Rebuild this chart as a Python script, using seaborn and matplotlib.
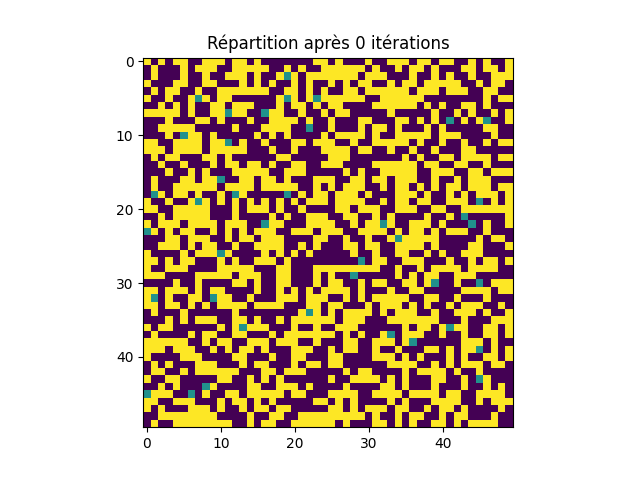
import numpy as np
import matplotlib
matplotlib.use("Agg")
import matplotlib.pyplot as plt
import seaborn as sns

# colonnes 0-24, lignes 0-49 (0 = vide, 1 = neutre, 2 = occupe)
left_rows = [
    "2020220022202202000000022",
    "0200020222002222200202002",
    "0200020020022202002120222",
    "2000220022000202020020200",
    "0202200200222222200220202",
    "2002002120220000002120212",
    "0020202002202220002022020",
    "2222202002212200122002002",
    "0002000220200020022220200",
    "0022222000002000222200100",
    "0002012202000002020200002",
    "2200222202210200200022022",
    "2220222202222200020020002",
    "0202200022020000002200000",
    "0020020002022022020022002",
    "0002002020002222200222000",
    "0200022022100220220200022",
    "0200222222022220222220020",
    "0120220200201200000102022",
    "2002002120202020202020222",
    "2200222220002022202002000",
    "0020222220002000020200222",
    "2022202222022200122000222",
    "1202022002020202220022202",
    "0002202220020220222000022",
    "0022202022002002222002020",
    "2000020222120000202020200",
    "2202022000202002220200000",
    "2002220000222220002200022",
    "2220000222220222002200020",
    "0000200200002202002200020",
    "2202220202200002002020202",
    "2102002201220020002220222",
    "2202202020222202222000220",
    "0200020000002000000002120",
    "0002020222002202002022222",
    "2022000000202122200020020",
    "0200002022002200020222222",
    "2222220020220022202220020",
    "2220222002020220200022200",
    "2000022200002200020022000",
    "0202000222000202200020220",
    "0220020222222000220222000",
    "2002200000220020202000000",
    "0020200012000022002220200",
    "1222001020022022222022000",
    "2200222000202202020000022",
    "2020002220200202202200000",
    "0022222222000020022002222",
    "0200222222220020220022222",
]

# colonnes 25-49
right_rows = [
    "0200020022202202200202002",
    "2222202002022020002202202",
    "2222022200020020200200222",
    "2020220020220222220020220",
    "0022022222202220222002200",
    "2222200222222000000002022",
    "2200002222220202002202000",
    "0220000020000020020200202",
    "2000220002202020102021002",
    "2000202202000202000002200",
    "0222202002222202220000200",
    "2002002222202002002002022",
    "2220220020020020002200000",
    "2220000000202002202222022",
    "2200002222220220022002000",
    "0020200222220022200220222",
    "2002202202220020020222000",
    "2022200202202020220222022",
    "0222020002220200202022202",
    "0222200202202200222010202",
    "0220222002220022002222222",
    "0022002020000200201000002",
    "2002022120022202000102002",
    "2200222202022020222002000",
    "0020020021222220000020220",
    "0022022002222020000220002",
    "0002002002200202002220000",
    "0000102200222000200202202",
    "2222222002002022220222200",
    "2001000002020220022200000",
    "2200202200220210020010222",
    "2220200020022000002222022",
    "0020202222200220020002000",
    "2200020222020200202220020",
    "2022220202220020022202002",
    "2022200022222220002000222",
    "0222000000202202122002202",
    "2020200210222002002002202",
    "0022002220210000002220200",
    "2022002002000220202210202",
    "2200002220202000202002202",
    "2200000022220020202220220",
    "0020220000202222020020000",
    "2002222020200022002012000",
    "0020000220200020002002020",
    "2222002222022220220022220",
    "0202000020200022220020222",
    "2202022202200202202000020",
    "2222202002022002022000200",
    "2020002202020022020222200",
]

tick_labels = [0, 10, 20, 30, 40]

grid = np.array([[int(c) for c in a + b] for a, b in zip(left_rows, right_rows)])

fig, ax = plt.subplots(figsize=(6.4, 4.8))
sns.heatmap(grid, cmap="viridis", vmin=0, vmax=2, cbar=False, square=True, ax=ax)

ax.set_xticks(np.array(tick_labels) + 0.5)
ax.set_xticklabels(tick_labels, rotation=0)
ax.set_yticks(np.array(tick_labels) + 0.5)
ax.set_yticklabels(tick_labels, rotation=0, va="center_baseline")
for s in ax.spines.values():
    s.set_visible(True)
ax.set_title("Répartition après 0 itérations")

fig.subplots_adjust(left=0.125, right=0.9, bottom=0.11, top=0.88)
fig.savefig("out.png", dpi=100)
